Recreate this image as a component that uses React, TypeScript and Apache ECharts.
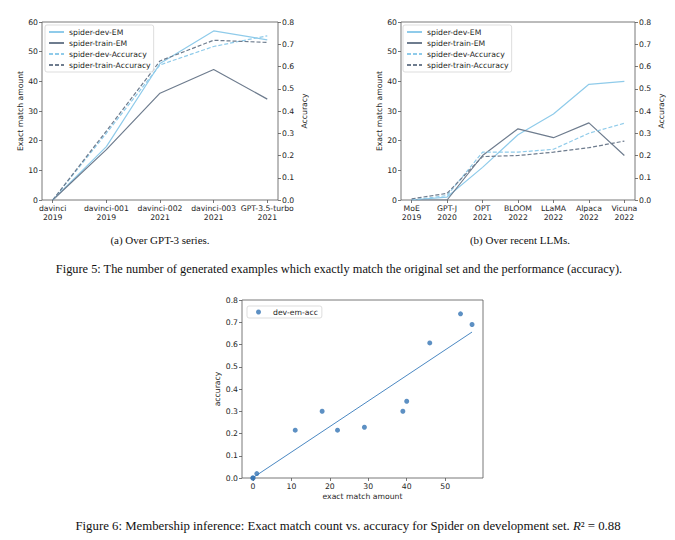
import React, { useEffect, useRef } from "react";
import * as echarts from "echarts";

// ---- data ----
const gpt3Models = ["davinci\n2019", "davinci-001\n2019", "davinci-002\n2021", "davinci-003\n2021", "GPT-3.5-turbo\n2021"];
const gpt3DevEM = [0, 18, 46, 57, 54];
const gpt3TrainEM = [0, 17, 36, 44, 34];
const gpt3DevAcc = [0, 0.3, 0.607, 0.69, 0.738];
const gpt3TrainAcc = [0, 0.31, 0.625, 0.718, 0.708];

const llmModels = ["MoE\n2019", "GPT-J\n2020", "OPT\n2021", "BLOOM\n2022", "LLaMA\n2022", "Alpaca\n2022", "Vicuna\n2022"];
const llmDevEM = [0, 1, 11, 22, 29, 39, 40];
const llmTrainEM = [0, 0, 15, 24, 21, 26, 15];
const llmDevAcc = [0, 0.02, 0.215, 0.215, 0.228, 0.3, 0.345];
const llmTrainAcc = [0.005, 0.03, 0.195, 0.2, 0.215, 0.235, 0.265];

const seriesNames = ["spider-dev-EM", "spider-train-EM", "spider-dev-Accuracy", "spider-train-Accuracy"];
const scatterName = "dev-em-acc";
const scatterXTicks = [0, 10, 20, 30, 40, 50];

const captionA = "(a) Over GPT-3 series.";
const captionB = "(b) Over recent LLMs.";
const caption5 = "Figure 5: The number of generated examples which exactly match the original set and the performance (accuracy).";
const caption6 = "Figure 6: Membership inference: Exact match count vs. accuracy for Spider on development set. {it|R}\u00b2 = 0.88";

// ---- styles ----
const FONT = "DejaVu Sans";
const SERIF = "Liberation Serif";
const FS = 7.7;
const SUBCAP = 11;
const TXT = "#262626";
const AX = "#555";
const LIGHT = "#8fcbea";
const DARK = "#6e7c8e";
const DOT = "#3474b4";
const FIT = "#4b88c2";

function catXAxis(gridIndex: number, labels: string[]) {
  const n = labels.length;
  const pad = (n - 1) * 0.05;
  const idx = labels.map((_, i) => i);
  return {
    type: "value",
    gridIndex,
    min: -pad,
    max: n - 1 + pad,
    axisLine: { show: false, onZero: false },
    splitLine: { show: false },
    axisTick: { show: true, customValues: idx, length: 3, lineStyle: { color: AX, width: 0.8 } },
    axisLabel: {
      customValues: idx,
      formatter: (v: number) => labels[Math.round(v)],
      fontSize: FS,
      fontFamily: FONT,
      color: TXT,
      lineHeight: 9,
      margin: 4,
    },
  };
}

function yAx(gridIndex: number, pos: string, max: number, interval: number, name: string, gap: number, dec: number) {
  return {
    type: "value",
    gridIndex,
    position: pos,
    min: 0,
    max,
    interval,
    name,
    nameLocation: "middle",
    nameRotate: 90,
    nameGap: gap,
    nameTextStyle: { fontSize: FS, fontFamily: FONT, color: TXT },
    axisLine: { show: false, onZero: false },
    splitLine: { show: false },
    axisTick: { show: true, length: 3, lineStyle: { color: AX, width: 0.8 } },
    axisLabel: {
      fontSize: FS,
      fontFamily: FONT,
      color: TXT,
      margin: 4,
      formatter: (v: number) => v.toFixed(dec),
    },
  };
}

function lineSeries(name: string, xi: number, yi: number, vals: number[], color: string, dashed: boolean) {
  return {
    name,
    type: "line",
    xAxisIndex: xi,
    yAxisIndex: yi,
    data: vals.map((v, i) => [i, v]),
    symbol: "none",
    lineStyle: { color, width: 1.2, type: dashed ? [4, 2] : "solid" },
    itemStyle: { color },
    z: 3,
  };
}

function legendAt(left: number, top: number) {
  return {
    orient: "vertical",
    left,
    top,
    data: seriesNames,
    itemWidth: 15,
    itemHeight: 8,
    itemGap: 3,
    padding: [3, 3, 3, 3],
    backgroundColor: "rgba(255,255,255,0.85)",
    borderColor: "#d4d4d4",
    borderWidth: 0.8,
    borderRadius: 2,
    selectedMode: false,
    itemStyle: { color: "rgba(0,0,0,0)", borderColor: "rgba(0,0,0,0)", borderWidth: 0, opacity: 0 },
    textStyle: { fontSize: FS, fontFamily: FONT, color: TXT },
  };
}

function fitLine(xs: number[], ys: number[]) {
  const n = xs.length;
  const mx = xs.reduce((a, b) => a + b, 0) / n;
  const my = ys.reduce((a, b) => a + b, 0) / n;
  let sxy = 0;
  let sxx = 0;
  for (let i = 0; i < n; i++) {
    sxy += (xs[i] - mx) * (ys[i] - my);
    sxx += (xs[i] - mx) * (xs[i] - mx);
  }
  const b = sxy / sxx;
  const a = my - b * mx;
  const x0 = Math.min(...xs);
  const x1 = Math.max(...xs);
  return [
    [x0, a + b * x0],
    [x1, a + b * x1],
  ];
}

export default function App() {
  const ref = useRef<HTMLDivElement>(null);
  useEffect(() => {
    const chart = echarts.init(ref.current!, null, { renderer: "svg", width: 675, height: 540 });
    const sx = [...gpt3DevEM, ...llmDevEM];
    const sy = [...gpt3DevAcc, ...llmDevAcc];
    const gridBase = { show: true, borderColor: AX, borderWidth: 0.8, backgroundColor: "transparent", containLabel: false };
    const option: any = {
      animation: false,
      backgroundColor: "#fff",
      grid: [
        { ...gridBase, left: 42, top: 22, width: 236, height: 178 },
        { ...gridBase, left: 401, top: 22, width: 234, height: 178 },
        { ...gridBase, left: 242, top: 300, width: 241, height: 178 },
      ],
      xAxis: [
        catXAxis(0, gpt3Models),
        catXAxis(1, llmModels),
        {
          type: "value",
          gridIndex: 2,
          min: -2.85,
          max: 59.85,
          name: "exact match amount",
          nameLocation: "middle",
          nameGap: 14,
          nameTextStyle: { fontSize: FS, fontFamily: FONT, color: TXT },
          axisLine: { show: false, onZero: false },
          splitLine: { show: false },
          axisTick: { show: true, customValues: scatterXTicks, length: 3, lineStyle: { color: AX, width: 0.8 } },
          axisLabel: { customValues: scatterXTicks, fontSize: FS, fontFamily: FONT, color: TXT, margin: 4 },
        },
      ],
      yAxis: [
        yAx(0, "left", 60, 10, "Exact match amount", 17, 0),
        yAx(0, "right", 0.8, 0.1, "Accuracy", 22, 1),
        yAx(1, "left", 60, 10, "Exact match amount", 17, 0),
        yAx(1, "right", 0.8, 0.1, "Accuracy", 22, 1),
        yAx(2, "left", 0.8, 0.1, "accuracy", 17, 1),
      ],
      legend: [
        legendAt(45, 25),
        legendAt(403, 25),
        {
          orient: "vertical",
          left: 247,
          top: 306,
          data: [{ name: scatterName, icon: "circle" }],
          itemWidth: 5,
          itemHeight: 5,
          padding: [2, 4, 2, 9],
          backgroundColor: "rgba(255,255,255,0.85)",
          borderColor: "#d4d4d4",
          borderWidth: 0.8,
          borderRadius: 2,
          selectedMode: false,
          textStyle: { fontSize: FS, fontFamily: FONT, color: TXT, padding: [0, 0, 0, 7] },
        },
      ],
      series: [
        lineSeries(seriesNames[0], 0, 0, gpt3DevEM, LIGHT, false),
        lineSeries(seriesNames[1], 0, 0, gpt3TrainEM, DARK, false),
        lineSeries(seriesNames[2], 0, 1, gpt3DevAcc, LIGHT, true),
        lineSeries(seriesNames[3], 0, 1, gpt3TrainAcc, DARK, true),
        lineSeries(seriesNames[0], 1, 2, llmDevEM, LIGHT, false),
        lineSeries(seriesNames[1], 1, 2, llmTrainEM, DARK, false),
        lineSeries(seriesNames[2], 1, 3, llmDevAcc, LIGHT, true),
        lineSeries(seriesNames[3], 1, 3, llmTrainAcc, DARK, true),
        {
          name: scatterName,
          type: "scatter",
          xAxisIndex: 2,
          yAxisIndex: 4,
          data: sx.map((x, i) => [x, sy[i]]),
          symbol: "circle",
          symbolSize: 5,
          itemStyle: { color: DOT },
          z: 4,
        },
        {
          name: "fit",
          type: "line",
          xAxisIndex: 2,
          yAxisIndex: 4,
          data: fitLine(sx, sy),
          symbol: "none",
          lineStyle: { color: FIT, width: 1 },
          z: 3,
        },
      ],
      graphic: [
        { type: "text", x: 160, y: 240, style: { text: captionA, fontFamily: SERIF, fontSize: SUBCAP, fill: "#111", textAlign: "center", textVerticalAlign: "middle" } },
        { type: "text", x: 520, y: 240, style: { text: captionB, fontFamily: SERIF, fontSize: SUBCAP, fill: "#111", textAlign: "center", textVerticalAlign: "middle" } },
        { type: "text", x: 339, y: 269, style: { text: caption5, fontFamily: SERIF, fontSize: 12.35, fill: "#111", textAlign: "center", textVerticalAlign: "middle" } },
        {
          type: "text",
          x: 348,
          y: 526,
          style: {
            text: caption6,
            fontFamily: SERIF,
            fontSize: 12.8,
            fill: "#111",
            textAlign: "center",
            textVerticalAlign: "middle",
            rich: { it: { fontFamily: SERIF, fontSize: 12.8, fontStyle: "italic", fill: "#111" } },
          },
        },
      ],
    };
    chart.setOption(option);
    return () => chart.dispose();
  }, []);
  return <div ref={ref} style={{ position: "fixed", left: 0, top: 0, width: 675, height: 540, background: "#fff" }} />;
}
